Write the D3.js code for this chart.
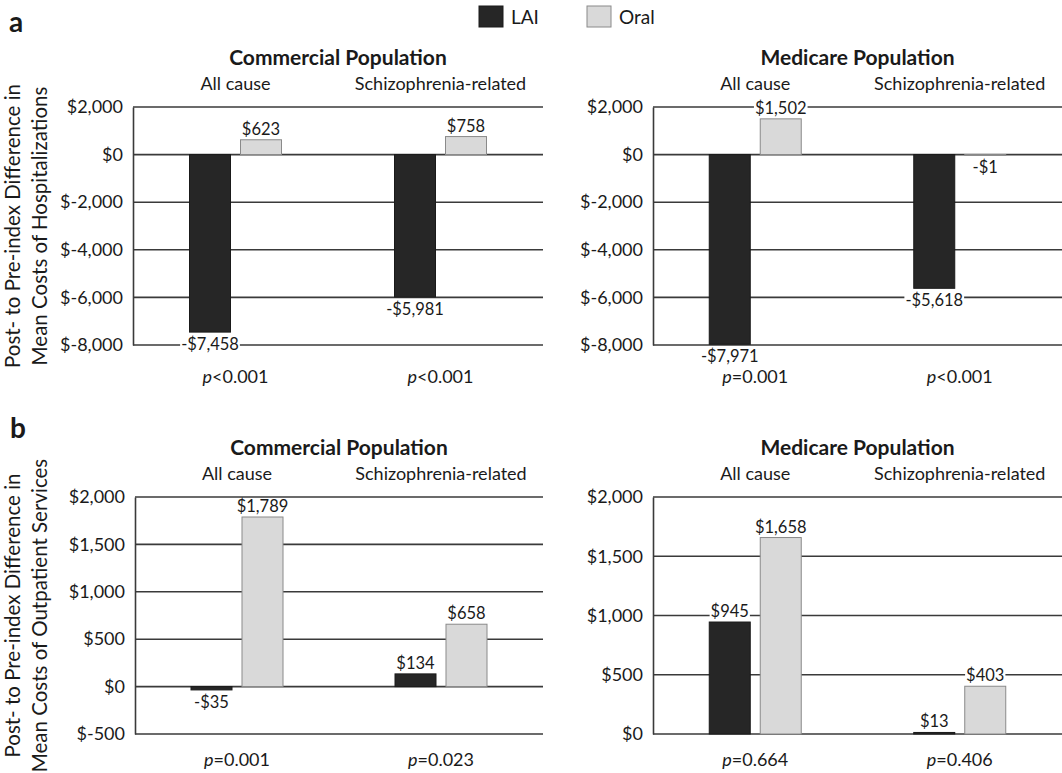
<!DOCTYPE html>
<html>
<head>
<meta charset="utf-8">
<script src="https://cdn.jsdelivr.net/npm/d3@7"></script>
<style>
  body { margin: 0; background: #fff; }
  svg { font-family: Lato, "Noto Sans", sans-serif; fill: #1a1a1a; }
</style>
</head>
<body>
<div id="chart"></div>
<script>
// ---- data ----
const causes = ["All cause", "Schizophrenia-related"];
const series = ["LAI", "Oral"];

const hospCommLAI = [-7458, -5981];
const hospCommOral = [623, 758];
const hospCommP = ["<0.001", "<0.001"];

const hospMedLAI = [-7971, -5618];
const hospMedOral = [1502, -1];
const hospMedP = ["=0.001", "<0.001"];

const outCommLAI = [-35, 134];
const outCommOral = [1789, 658];
const outCommP = ["=0.001", "=0.023"];

const outMedLAI = [945, 13];
const outMedOral = [1658, 403];
const outMedP = ["=0.664", "=0.406"];

const hospTicks = [2000, 0, -2000, -4000, -6000, -8000];
const outCommTicks = [2000, 1500, 1000, 500, 0, -500];
const outMedTicks = [2000, 1500, 1000, 500, 0];

const colors = { LAI: "#262626", Oral: "#d9d9d9" };

const width = 1062, height = 773;

const svg = d3.select("#chart").append("svg")
    .attr("width", width)
    .attr("height", height);

const fmt = d3.format(",");
// ticks put the sign after the $, value labels before it
const tickFmt = v => "$" + (v < 0 ? "-" : "") + fmt(Math.abs(v));
const labelFmt = v => (v < 0 ? "-$" : "$") + fmt(Math.abs(v));

function drawPanel(opt) {
  const g = svg.append("g");

  const y = d3.scaleLinear()
      .domain(d3.extent(opt.ticks))
      .range([opt.bottom, opt.top]);

  const x0 = d3.scaleBand()
      .domain(causes)
      .range([opt.left, opt.right]);

  const x1 = d3.scaleBand()
      .domain(series)
      .range([-46, 46])
      .paddingInner(0.196);

  // gridlines
  g.selectAll(".grid")
    .data(opt.ticks)
    .join("line")
      .attr("x1", opt.left)
      .attr("x2", opt.right)
      .attr("y1", d => y(d))
      .attr("y2", d => y(d))
      .attr("stroke", "#3a3a3a")
      .attr("stroke-width", 1.6);

  // axis
  const axis = g.append("g")
      .attr("transform", `translate(${opt.left},0)`)
      .call(d3.axisLeft(y).tickValues(opt.ticks).tickFormat(tickFmt).tickSize(0).tickPadding(10));
  axis.select(".domain").attr("stroke", "#3a3a3a").attr("stroke-width", 1.6);
  axis.selectAll("text")
      .style("font-size", "18px")
      .style("font-family", "Lato, sans-serif")
      .attr("fill", "#1a1a1a");

  // titles
  g.append("text")
      .attr("x", (opt.left + opt.right) / 2)
      .attr("y", opt.top - 42)
      .attr("text-anchor", "middle")
      .style("font-size", "21px")
      .style("font-weight", "bold")
      .text(opt.title);

  g.selectAll(".cause")
    .data(causes)
    .join("text")
      .attr("x", d => x0(d) + x0.bandwidth() / 2)
      .attr("y", opt.top - 17)
      .attr("text-anchor", "middle")
      .style("font-size", "18px")
      .text(d => d);

  const rows = [];
  causes.forEach((c, i) => {
    rows.push({ cause: c, s: "LAI", v: opt.lai[i] });
    rows.push({ cause: c, s: "Oral", v: opt.oral[i] });
  });
  const cx = d => x0(d.cause) + x0.bandwidth() / 2 + x1(d.s);

  g.selectAll(".bar")
    .data(rows)
    .join("rect")
      .attr("x", cx)
      .attr("width", x1.bandwidth())
      .attr("y", d => y(Math.max(0, d.v)))
      .attr("height", d => Math.max(0.8, Math.abs(y(d.v) - y(0))))
      .attr("fill", d => colors[d.s])
      .attr("stroke", d => d.s == "Oral" ? "#8a8a8a" : "#1a1a1a")
      .attr("stroke-width", 1);

  // value labels with white backing
  const lab = g.selectAll(".lab")
    .data(rows)
    .join("g");
  lab.append("text")
      .attr("x", d => cx(d) + x1.bandwidth() / 2)
      .attr("y", d => d.v < 0 ? y(d.v) + 18 : y(d.v) - 5)
      .attr("text-anchor", "middle")
      .style("font-size", "16.5px")
      .text(d => labelFmt(d.v));
  lab.each(function() {
    const t = d3.select(this).select("text");
    const b = t.node().getBBox();
    d3.select(this).insert("rect", "text")
      .attr("x", b.x - 1).attr("y", b.y + 3)
      .attr("width", b.width + 2).attr("height", b.height - 5)
      .attr("fill", "#fff");
  });

  // p values
  const pt = g.selectAll(".pv")
    .data(causes)
    .join("text")
      .attr("x", d => x0(d) + x0.bandwidth() / 2)
      .attr("y", opt.bottom + opt.pGap)
      .attr("text-anchor", "middle")
      .style("font-size", "18px");
  pt.append("tspan").style("font-style", "italic").text("p");
  pt.append("tspan").text((d, i) => opt.p[i]);

  // y title
  if (opt.ytitle) {
    const t = g.append("text")
        .attr("transform", `translate(20,${(opt.top + opt.bottom) / 2}) rotate(-90)`)
        .attr("text-anchor", "middle")
        .style("font-size", "20.5px");
    t.append("tspan").attr("x", 0).attr("dy", 0).text(opt.ytitle[0]);
    t.append("tspan").attr("x", 0).attr("dy", 27).text(opt.ytitle[1]);
  }
}

drawPanel({ left: 133, right: 543, top: 107, bottom: 345, ticks: hospTicks, pGap: 38,
  title: "Commercial Population", lai: hospCommLAI, oral: hospCommOral, p: hospCommP,
  ytitle: ["Post- to Pre-index Difference in", "Mean Costs of Hospitalizations"] });
drawPanel({ left: 653, right: 1062, top: 107, bottom: 345, ticks: hospTicks, pGap: 38,
  title: "Medicare Population", lai: hospMedLAI, oral: hospMedOral, p: hospMedP });
drawPanel({ left: 135, right: 543, top: 497, bottom: 734, ticks: outCommTicks, pGap: 32,
  title: "Commercial Population", lai: outCommLAI, oral: outCommOral, p: outCommP,
  ytitle: ["Post- to Pre-index Difference in", "Mean Costs of Outpatient Services"] });
drawPanel({ left: 653, right: 1062, top: 497, bottom: 734, ticks: outMedTicks, pGap: 32,
  title: "Medicare Population", lai: outMedLAI, oral: outMedOral, p: outMedP });

// panel letters
svg.append("text").attr("x", 9).attr("y", 32)
    .style("font-size", "28px").style("font-weight", "bold").text("a");
svg.append("text").attr("x", 10).attr("y", 438)
    .style("font-size", "28px").style("font-weight", "bold").text("b");

// legend
const legend = svg.append("g").attr("transform", "translate(479,6)");
const li = legend.selectAll("g")
  .data(series)
  .join("g")
    .attr("transform", (d, i) => `translate(${i * 108},0)`);
li.append("rect")
    .attr("width", 24).attr("height", 21)
    .attr("fill", d => colors[d])
    .attr("stroke", d => d == "Oral" ? "#8a8a8a" : "#1a1a1a");
li.append("text")
    .attr("x", 32).attr("y", 18)
    .style("font-size", "19px")
    .text(d => d);
</script>
</body>
</html>
